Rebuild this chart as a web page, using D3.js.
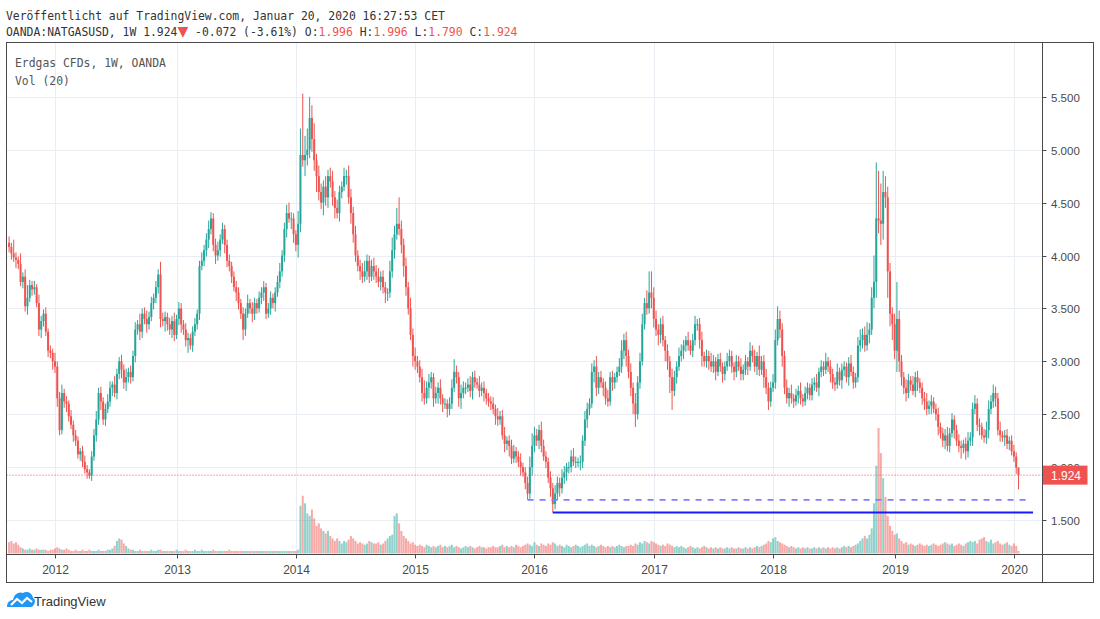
<!DOCTYPE html>
<html><head><meta charset="utf-8">
<script src="https://cdnjs.cloudflare.com/ajax/libs/d3/7.8.5/d3.min.js"></script>
<style>body{margin:0;background:#fff;}svg{display:block}</style>
</head><body>
<svg id="c" width="1100" height="619"></svg>
<script>
// ---------- DATA ----------
const startDate = "2011-08-15";   // first weekly bar (Monday)
const firstOpen = 4.12;
const closes = [
4.08,4.02,3.98,3.96,3.92,3.75,3.80,3.52,3.60,3.72,
3.68,3.70,3.55,3.30,3.38,3.45,3.28,3.10,3.08,3.00,
2.95,2.65,2.35,2.70,2.62,2.60,2.48,2.40,2.30,2.25,
2.12,2.15,2.05,1.98,1.95,1.92,2.10,2.30,2.45,2.70,
2.62,2.45,2.55,2.62,2.75,2.78,2.70,2.88,3.00,2.92,
2.80,2.85,2.90,2.85,3.05,3.30,3.35,3.28,3.45,3.40,
3.35,3.42,3.55,3.60,3.70,3.82,3.40,3.38,3.42,3.35,
3.30,3.38,3.25,3.40,3.50,3.35,3.30,3.20,3.22,3.15,
3.28,3.35,3.45,3.90,3.95,4.05,4.15,4.25,4.35,4.10,
4.00,4.05,4.15,4.25,4.10,3.95,3.90,3.80,3.70,3.65,
3.55,3.45,3.30,3.45,3.55,3.50,3.45,3.55,3.50,3.60,
3.65,3.70,3.45,3.50,3.60,3.55,3.65,3.75,3.85,4.00,
4.25,4.40,4.35,4.35,4.20,4.10,4.30,4.95,4.90,4.95,
5.00,5.30,5.10,4.90,4.75,4.60,4.50,4.65,4.55,4.75,
4.70,4.55,4.45,4.40,4.60,4.65,4.75,4.75,4.55,4.40,
4.20,4.00,3.90,3.85,3.80,3.85,3.95,3.80,3.90,3.85,
3.80,3.75,3.80,3.70,3.65,3.65,3.85,4.05,4.20,4.30,
4.25,4.10,3.90,3.70,3.50,3.25,3.05,3.00,2.95,2.85,
2.70,2.65,2.75,2.80,2.85,2.65,2.70,2.75,2.65,2.60,
2.60,2.55,2.60,2.75,2.90,2.85,2.65,2.70,2.75,2.75,
2.78,2.72,2.85,2.80,2.78,2.72,2.75,2.70,2.65,2.62,
2.60,2.55,2.48,2.45,2.48,2.30,2.22,2.25,2.20,2.08,
2.15,2.10,2.05,2.00,1.95,1.85,1.75,2.00,2.20,2.30,
2.25,2.35,2.20,2.10,2.05,1.90,1.80,1.65,1.75,1.85,
1.80,1.90,1.95,2.00,2.00,2.10,2.05,2.05,2.05,2.05,
2.25,2.45,2.55,2.60,2.90,2.95,2.75,2.85,2.80,2.75,
2.65,2.62,2.85,2.80,2.85,2.90,2.95,3.10,3.20,3.05,
2.90,2.75,2.60,2.50,2.80,3.00,3.35,3.55,3.50,3.65,
3.60,3.40,3.30,3.25,3.35,3.20,3.10,3.00,2.85,2.72,
2.85,2.95,3.05,3.10,3.15,3.20,3.15,3.10,3.20,3.35,
3.35,3.20,3.05,3.00,3.05,3.00,2.95,3.00,2.90,3.02,
2.95,2.88,2.95,3.00,3.05,2.95,2.90,3.00,2.95,2.88,
2.92,3.00,2.95,3.10,3.05,2.95,3.05,2.92,3.00,2.85,
2.75,2.62,2.75,2.80,3.20,3.40,3.30,3.05,2.75,2.65,
2.70,2.65,2.62,2.68,2.72,2.65,2.62,2.70,2.75,2.68,
2.78,2.80,2.75,2.90,2.95,2.92,3.00,2.95,2.88,2.80,
2.78,2.90,2.82,2.92,2.95,2.85,2.98,2.90,2.80,2.85,
3.15,3.20,3.25,3.15,3.25,3.30,3.60,3.75,4.35,4.33,
4.30,4.60,4.55,3.85,3.45,3.35,3.10,3.40,3.00,2.85,
2.75,2.70,2.82,2.78,2.72,2.85,2.80,2.75,2.65,2.62,
2.55,2.58,2.62,2.55,2.50,2.38,2.32,2.25,2.30,2.20,
2.32,2.45,2.35,2.25,2.20,2.18,2.22,2.15,2.25,2.28,
2.55,2.60,2.40,2.38,2.30,2.28,2.35,2.55,2.62,2.70,
2.65,2.35,2.30,2.28,2.30,2.22,2.25,2.15,2.10,1.996,
1.924];
// upper / lower wick lengths in hundredths
const upWick = [
6,4,13,5,3,10,4,7,12,5, 4,6,3,8,5,4,6,3,5,4, 8,5,6,8,4,5,3,6,4,5, 4,3,5,6,4,3,5,6,8,5,
6,4,5,7,6,3,8,5,4,6, 5,8,4,6,5,7,4,10,5,6, 8,5,6,4,6,5,12,6,5,4, 6,5,8,4,6,5,4,6,5,4,
5,6,4,5,8,5,6,8,6,5, 6,8,5,6,4,5,6,4,5,6, 5,4,6,5,8,4,6,5,4,6, 5,6,4,5,6,4,5,6,8,5,
6,8,10,6,5,4,12,25,58,18, 20,20,12,15,6,10,8,6,10,6, 8,10,6,8,6,5,8,6,10,8, 6,8,5,6,8,10,6,5,6,8,
6,8,5,6,5,4,10,12,8,15, 25,8,6,8,5,10,6,8,5,6, 8,12,6,8,5,4,6,5,8,4, 5,4,6,8,12,6,5,8,6,5,
6,8,5,6,4,8,5,6,4,5, 5,6,4,8,5,6,8,4,5,6, 6,4,5,8,4,5,6,10,12,8, 6,5,8,6,5,4,6,5,8,6,
5,8,6,4,5,6,8,5,4,6, 5,8,6,5,8,6,10,5,6,4, 6,8,5,6,4,5,8,10,6,8, 6,8,5,10,6,8,10,5,12,20,
20,10,8,5,6,8,4,6,5,8, 6,5,8,6,5,4,8,5,6,8, 5,6,8,4,6,5,8,6,4,5, 6,4,5,8,6,5,4,6,5,8,
5,6,4,8,5,6,4,10,5,6, 8,5,6,8,10,12,8,6,5,8, 5,8,4,6,5,8,4,6,5,4, 6,5,8,4,6,5,8,4,6,5,
5,8,4,6,5,4,6,8,5,4, 8,10,6,8,12,6,10,25,53,45, 35,20,15,10,8,6,10,35,8,6, 5,8,6,4,8,5,6,4,5,6,
8,5,6,4,5,6,4,5,6,8, 5,6,4,5,6,5,4,6,8,5, 6,8,5,6,4,6,8,8,6,8, 6,5,8,4,5,6,4,5,6,4,
0];
const dnWick = [
5,6,4,8,5,4,6,5,8,4, 6,5,4,6,8,5,4,6,5,8, 6,8,5,4,6,8,5,4,6,5, 4,6,5,4,6,3,5,4,6,5,
8,5,6,4,5,8,4,6,5,8, 6,8,5,6,4,6,5,8,6,5, 8,5,4,6,5,6,8,5,10,6, 5,8,6,4,6,8,5,6,12,4,
6,4,5,6,4,5,6,8,5,6, 8,5,6,4,8,6,5,6,4,8, 6,5,10,6,4,5,8,6,5,4, 6,8,5,4,6,5,8,4,6,5,
6,8,4,10,8,6,12,8,6,15, 10,8,12,10,15,8,6,12,8,10, 6,8,10,5,8,6,4,8,6,10, 8,6,5,8,6,5,8,6,4,8,
6,5,8,6,10,8,5,6,8,5, 6,8,10,8,6,5,10,8,6,5, 8,6,5,10,6,8,5,10,6,8, 5,8,6,5,4,6,8,10,5,6,
4,6,8,5,4,6,5,8,6,5, 6,5,8,6,5,4,8,6,10,5, 4,6,5,8,4,6,6,5,8,6, 5,8,6,4,6,5,8,8,5,6,
8,5,6,8,6,5,4,6,5,8, 6,5,8,6,4,10,8,6,5,8, 6,5,4,8,6,5,4,6,8,10, 6,8,10,12,5,6,4,5,6,5,
10,8,6,10,8,6,10,8,15,18, 5,6,4,5,8,6,5,4,6,5, 6,8,10,5,6,8,5,6,8,4, 5,8,6,4,5,6,8,5,4,6,
6,5,8,4,6,5,8,6,5,10, 6,8,5,4,6,5,8,10,6,5, 8,5,6,4,8,6,5,4,6,5, 5,6,4,8,5,6,4,5,8,6,
6,4,5,8,6,5,8,4,6,5, 5,6,8,6,5,8,5,10,15,12, 20,15,10,25,12,15,8,20,10,8, 6,8,5,6,4,6,8,5,6,8,
6,5,8,4,6,8,5,6,8,5, 6,4,8,5,6,10,5,8,6,5, 8,5,6,8,4,5,6,8,5,6, 8,5,6,4,8,5,6,4,5,6,
13.4];
const volumes = [
9,10,8,9,7,5,4,3,3,4, 3,3,4,3,3,3,3,2,3,3, 4,5,4,3,3,4,3,2,2,3, 2,2,3,2,2,3,2,2,2,3,
2,2,2,3,3,4,6,10,12,11, 8,6,4,3,3,2,2,3,2,2, 2,2,3,2,2,3,3,2,2,2, 2,2,2,3,2,2,2,3,2,2,
2,3,2,2,3,2,2,2,2,3, 2,2,2,2,2,2,3,2,2,2, 2,2,2,2,2,2,2,2,2,2, 2,2,2,2,2,2,2,2,2,2,
2,2,2,2,2,2,3,38,46,40, 32,30,35,28,22,24,20,18,16,18, 14,12,10,12,10,8,10,9,11,14, 12,10,8,9,8,7,8,10,9,8,
8,9,7,8,10,12,14,15,30,32, 24,18,14,12,10,8,9,7,6,7, 6,5,7,6,5,6,5,6,7,5, 6,5,6,7,5,6,5,4,5,6,
5,6,5,4,5,6,5,5,4,5, 5,6,5,5,6,7,5,6,5,6, 5,7,6,5,6,7,8,7,6,9, 7,6,8,7,6,8,7,9,8,6,
7,6,5,7,6,5,6,7,6,5, 6,7,8,6,7,6,5,6,7,6, 5,6,5,6,5,6,7,6,5,6, 6,7,6,8,7,9,8,10,9,8,
10,9,8,7,6,7,6,8,7,6, 5,6,5,6,5,4,5,6,5,4, 5,4,5,6,5,4,5,4,5,4, 5,4,4,5,4,5,4,4,5,4,
4,5,4,5,4,5,6,5,6,7, 8,10,9,12,13,10,9,8,7,6, 5,6,5,4,5,4,5,4,5,4, 4,5,4,5,4,5,4,5,4,5,
4,5,4,5,6,5,6,5,6,7, 8,10,12,14,12,15,20,40,70,100, 80,60,45,30,22,18,15,16,12,10, 8,9,7,8,7,6,7,8,7,6,
7,6,7,8,7,6,7,8,9,8, 7,8,6,7,8,7,6,8,9,10, 9,10,8,11,12,13,10,9,11,8, 9,10,8,7,8,9,7,6,8,6,
2];
const priceTicks = [1.5, 2.0, 2.5, 3.0, 3.5, 4.0, 4.5, 5.0, 5.5];
const lastPrice = 1.924;
const levelDashed = {value: 1.69, from: "2015-12-14"};
const levelSolid  = {value: 1.57, from: "2016-02-29"};
const headerLine1 = "Veröffentlicht auf TradingView.com, Januar 20, 2020 16:27:53 CET";
const headerLine2 = [
  ["OANDA:NATGASUSD, 1W 1.924", "#333"], ["▼", "#ef5350"], [" -0.072 (-3.61%) O:", "#333"],
  ["1.996", "#ef5350"], [" H:", "#333"], ["1.996", "#ef5350"], [" L:", "#333"],
  ["1.790", "#ef5350"], [" C:", "#333"], ["1.924", "#ef5350"]];
const legendLines = ["Erdgas CFDs, 1W, OANDA", "Vol (20)"];

// ---------- BUILD ----------
const parse = d3.timeParse("%Y-%m-%d");
const t0 = parse(startDate);
const bars = closes.map((c, i) => {
  const o = i === 0 ? firstOpen : closes[i - 1];
  return {
    date: d3.timeDay.offset(t0, 7 * i),
    o, c,
    h: Math.max(o, c) + upWick[i] / 100,
    l: Math.min(o, c) - dnWick[i] / 100,
    v: volumes[i]
  };
});

const UP = "#26a69a", DN = "#ef5350";
const L = 6.5, R = 1042.5, T = 42.5, B = 554.5, AXB = 582.5, OR = 1093.5;

const x = d3.scaleTime()
  .domain([bars[0].date, bars[bars.length - 1].date])
  .range([9.1, 1018.5]);
const y = d3.scaleLinear().domain([1.5, 5.5]).range([520, 96.8]);
const yv = d3.scaleLinear().domain([0, 100]).range([553.5, 428]);

// year ticks at first bar of each year
const yearTicks = d3.groups(bars, d => d.date.getFullYear())
  .map(([yr, arr]) => ({yr, date: arr[0].date}))
  .filter(d => d.yr >= 2012);

const svg = d3.select("#c");
const MONO = "DejaVu Sans Mono";
const SANS = "Liberation Sans, Arial, sans-serif";

// header
svg.append("text").attr("x", 6).attr("y", 19.5)
  .attr("font-family", MONO).attr("font-size", 11.4).attr("fill", "#333")
  .text(headerLine1);
const h2 = svg.append("text").attr("x", 6).attr("y", 36)
  .attr("font-family", MONO).attr("font-size", 11.4);
headerLine2.forEach(([t, col]) => {
  const ts = h2.append("tspan").attr("fill", col).text(t);
  if (t === "▼") ts.attr("font-family", "DejaVu Sans").attr("font-size", 14);
});

// grid
const grid = svg.append("g").attr("stroke", "#e9eef4").attr("stroke-width", 1);
priceTicks.forEach(p => grid.append("line")
  .attr("x1", L).attr("x2", R).attr("y1", Math.round(y(p)) + 0.5).attr("y2", Math.round(y(p)) + 0.5));
yearTicks.forEach(d => grid.append("line")
  .attr("x1", Math.round(x(d.date)) + 0.5).attr("x2", Math.round(x(d.date)) + 0.5)
  .attr("y1", T).attr("y2", B));

// volume
svg.append("g").selectAll("rect").data(bars).join("rect")
  .attr("x", d => x(d.date) - 1).attr("width", 2)
  .attr("y", d => yv(d.v)).attr("height", d => yv(0) - yv(d.v))
  .attr("fill", d => d.c >= d.o ? UP : DN).attr("fill-opacity", 0.5);

// candles
const cg = svg.append("g");
cg.selectAll("line").data(bars).join("line")
  .attr("x1", d => x(d.date)).attr("x2", d => x(d.date))
  .attr("y1", d => y(d.h)).attr("y2", d => y(d.l))
  .attr("stroke", d => d.c >= d.o ? UP : DN).attr("stroke-width", 1);
cg.selectAll("rect").data(bars).join("rect")
  .attr("x", d => x(d.date) - 1).attr("width", 2)
  .attr("y", d => y(Math.max(d.o, d.c)))
  .attr("height", d => Math.max(1, Math.abs(y(d.o) - y(d.c))))
  .attr("fill", d => d.c >= d.o ? UP : DN);

// price lines
svg.append("line").attr("x1", L).attr("x2", R)
  .attr("y1", y(lastPrice)).attr("y2", y(lastPrice))
  .attr("stroke", DN).attr("stroke-width", 1).attr("stroke-dasharray", "1,2");
svg.append("line").attr("x1", x(parse(levelDashed.from))).attr("x2", 1029)
  .attr("y1", y(levelDashed.value)).attr("y2", y(levelDashed.value))
  .attr("stroke", "#7f7fff").attr("stroke-width", 1.6).attr("stroke-dasharray", "6,6");
svg.append("line").attr("x1", x(parse(levelSolid.from))).attr("x2", 1033)
  .attr("y1", y(levelSolid.value)).attr("y2", y(levelSolid.value))
  .attr("stroke", "#1a1aff").attr("stroke-width", 2);

// legend
legendLines.forEach((t, i) => svg.append("text").attr("x", 15).attr("y", 67 + i * 17.5)
  .attr("font-family", MONO).attr("font-size", 11.4).attr("fill", "#555").text(t));

// frame
const fr = svg.append("g").attr("stroke", "#4a4a4a").attr("stroke-width", 1).attr("fill", "none");
fr.append("rect").attr("x", L).attr("y", T).attr("width", OR - L).attr("height", AXB - T);
fr.append("line").attr("x1", R).attr("x2", R).attr("y1", T).attr("y2", AXB);
fr.append("line").attr("x1", L).attr("x2", OR).attr("y1", B).attr("y2", B);

// price axis
const pa = svg.append("g");
priceTicks.forEach(p => {
  const yy = Math.round(y(p)) + 0.5;
  pa.append("line").attr("x1", R).attr("x2", R + 4).attr("y1", yy).attr("y2", yy).attr("stroke", "#4a4a4a");
  pa.append("text").attr("x", 1051).attr("y", yy + 4)
    .attr("font-family", SANS).attr("font-size", 11.5)
    .attr("fill", "#4a4a4a").text(d3.format(".3f")(p));
});

// time axis
const ta = svg.append("g");
yearTicks.forEach(d => {
  const xx = Math.round(x(d.date)) + 0.5;
  ta.append("line").attr("x1", xx).attr("x2", xx).attr("y1", B).attr("y2", B + 4).attr("stroke", "#4a4a4a");
  ta.append("text").attr("x", xx).attr("y", 574).attr("text-anchor", "middle")
    .attr("font-family", SANS).attr("font-size", 12)
    .attr("fill", "#4a4a4a").text(d.yr);
});

// last price label (covers the 2.000 tick label as in the original)
const ly = y(lastPrice);
svg.append("rect").attr("x", R + 0.5).attr("y", ly - 9.5).attr("width", 44.5).attr("height", 19).attr("fill", DN);
svg.append("text").attr("x", 1051).attr("y", ly + 4.5)
  .attr("font-family", SANS).attr("font-size", 12)
  .attr("fill", "#fff").text(d3.format(".3f")(lastPrice));

// TradingView logo
const lg = svg.append("g").attr("transform", "translate(7,591)");
lg.append("path").attr("fill", "#2196f3")
  .attr("d", "M0,16 C0,11 3,9 6,9 C7,3 12,0 16,2 C19,0 25,1 26,7 C30,8 27,16 24,16 Z");
lg.append("path").attr("fill", "none").attr("stroke", "#fff").attr("stroke-width", 2.2)
  .attr("d", "M4,14 L10,8 L15,12 L20,7 L25,11");
svg.append("text").attr("x", 34).attr("y", 605.5)
  .attr("font-family", SANS).attr("font-size", 13)
  .attr("fill", "#333").text("TradingView");
</script>
</body></html>
